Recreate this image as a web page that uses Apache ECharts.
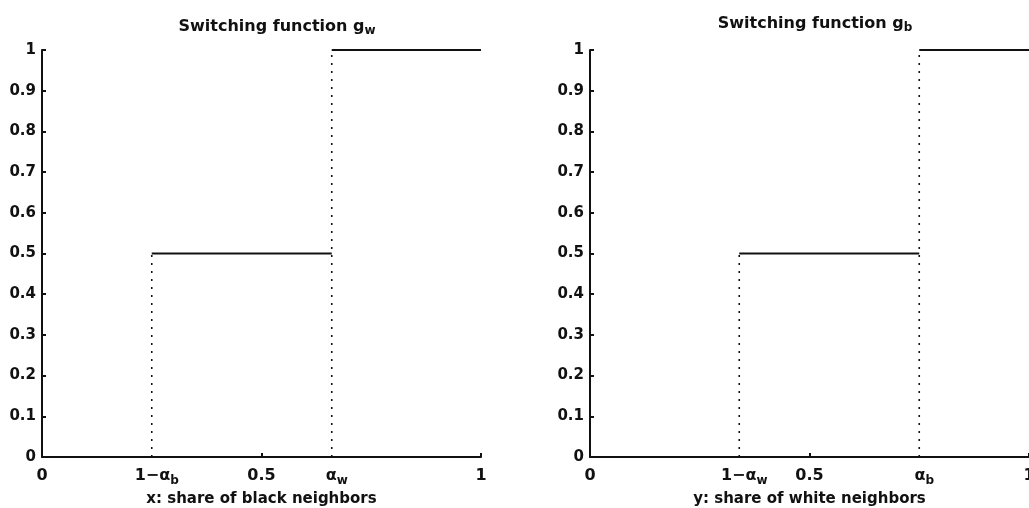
<!DOCTYPE html>
<html>
  <head>
    <meta charset="utf-8" />
    <title>Switching functions</title>
    <script src="https://cdn.jsdelivr.net/npm/echarts@6/dist/echarts.min.js"></script>
  </head>
  <body style="margin:0;background:#fff;">
    <div id="main" style="width: 1029px;height:508px;"></div>
    <script type="text/javascript">
      // step positions (1-alpha, alpha) and levels of each switching function
      var gwEdges = [0, 0.25, 0.66, 1];
      var gwLevels = [0, 0.5, 1];
      var gbEdges = [0, 0.34, 0.75, 1];
      var gbLevels = [0, 0.5, 1];

      // x tick labels (rich text, s = subscript, p = spacer so the main part sits on the tick)
      var gwTickValues = [0, 0.25, 0.5, 0.66, 1];
      var gwTickLabels = ["{m|0}", "{p|}{m|1−α}{s|b}", "{m|0.5}", "{p|}{m|α}{s|w}", "{m|1}"];
      var gbTickValues = [0, 0.34, 0.5, 0.75, 1];
      var gbTickLabels = ["{m|0}", "{p|}{m|1−α}{s|w}", "{m|0.5}", "{p|}{m|α}{s|b}", "{m|1}"];

      var titles = ["{t|Switching function g}{s|w}", "{t|Switching function g}{s|b}"];
      var xNames = ["x: share of black neighbors", "y: share of white neighbors"];

      var FONT = "DejaVu Sans";
      var INK = "#111";

      var myChart = echarts.init(document.getElementById("main"));

      var titleRich = {
        t: { fontFamily: FONT, fontWeight: "bold", fontSize: 16, color: INK, verticalAlign: "top" },
        s: { fontFamily: FONT, fontWeight: "bold", fontSize: 12, color: INK, verticalAlign: "top", padding: [6, 0, 0, 0] }
      };
      var labelRich = {
        m: { fontFamily: FONT, fontWeight: "bold", fontSize: 16, color: INK, verticalAlign: "top" },
        s: { fontFamily: FONT, fontWeight: "bold", fontSize: 12, color: INK, verticalAlign: "top", padding: [7, 0, 0, 0] },
        p: { width: 10 }
      };

      function makeX(gridIndex, values, labels, name) {
        return {
          type: "value",
          gridIndex: gridIndex,
          min: 0,
          max: 1,
          name: name,
          nameLocation: "middle",
          nameGap: 18,
          nameTextStyle: {
            fontFamily: FONT,
            fontWeight: "bold",
            fontSize: 15,
            color: INK
          },
          axisLine: { lineStyle: { color: INK, width: 2 } },
          axisTick: {
            inside: true,
            length: 4,
            customValues: [0, 0.5, 1],
            lineStyle: { color: INK, width: 2 }
          },
          axisLabel: {
            customValues: values,
            margin: 11,
            hideOverlap: false,
            formatter: function (v) {
              for (var i = 0; i < values.length; i++) {
                if (Math.abs(values[i] - v) < 1e-6) return labels[i];
              }
              return "";
            },
            rich: labelRich
          },
          splitLine: { show: false }
        };
      }

      function makeY(gridIndex) {
        return {
          type: "value",
          gridIndex: gridIndex,
          min: 0,
          max: 1,
          interval: 0.1,
          axisLine: { show: true, lineStyle: { color: INK, width: 2 } },
          axisTick: { show: true, inside: true, length: 4, lineStyle: { color: INK, width: 2 } },
          axisLabel: {
            margin: 6,
            fontFamily: FONT,
            fontWeight: "bold",
            fontSize: 15,
            color: INK
          },
          splitLine: { show: false }
        };
      }

      function stepSeries(edges, levels, idx) {
        var out = [];
        for (var i = 0; i < levels.length; i++) {
          out.push({
            type: "line",
            xAxisIndex: idx,
            yAxisIndex: idx,
            symbol: "none",
            lineStyle: { color: INK, width: 2.2 },
            data: [[edges[i], levels[i]], [edges[i + 1], levels[i]]]
          });
          if (i > 0) {
            // dotted riser
            out.push({
              type: "line",
              xAxisIndex: idx,
              yAxisIndex: idx,
              symbol: "none",
              lineStyle: { color: INK, width: 1.6, type: [2, 6] },
              data: [[edges[i], 0], [edges[i], levels[i]]]
            });
          }
        }
        return out;
      }

      var option = {
        backgroundColor: "#fff",
        animation: false,
        title: [
          { text: titles[0], left: 272, top: 14, textAlign: "center", textStyle: { rich: titleRich } },
          { text: titles[1], left: 810, top: 11, textAlign: "center", textStyle: { rich: titleRich } }
        ],
        grid: [
          { left: 42, top: 50, width: 439, height: 407, outerBoundsMode: "none" },
          { left: 590, top: 50, width: 439, height: 407, outerBoundsMode: "none" }
        ],
        xAxis: [
          makeX(0, gwTickValues, gwTickLabels, xNames[0]),
          makeX(1, gbTickValues, gbTickLabels, xNames[1])
        ],
        yAxis: [makeY(0), makeY(1)],
        series: stepSeries(gwEdges, gwLevels, 0).concat(stepSeries(gbEdges, gbLevels, 1))
      };

      myChart.setOption(option);
    </script>
  </body>
</html>
